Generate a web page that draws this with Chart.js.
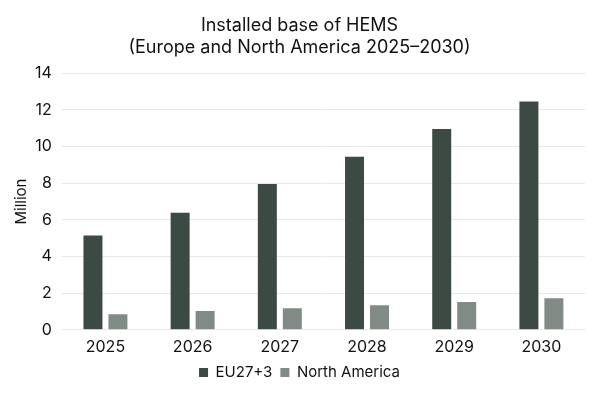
<!DOCTYPE html>
<html>
<head>
<meta charset="utf-8">
<script src="https://cdn.jsdelivr.net/npm/chart.js@4"></script>
<style>
html,body{margin:0;padding:0;background:#fff;}
#wrap{width:600px;height:400px;}
</style>
</head>
<body>
<div id="wrap"><canvas id="c" width="600" height="400"></canvas></div>
<script>
const categories = ["2025","2026","2027","2028","2029","2030"];
const euValues = [5.14, 6.39, 7.95, 9.44, 10.95, 12.45];
const naValues = [0.85, 1.03, 1.18, 1.34, 1.52, 1.72];
const seriesNames = ["EU27+3", "North America"];
const titleLines = ["Installed base of HEMS", "(Europe and North America 2025\u20132030)"];
const yTitle = "Million";

const FONT = "Inter, 'Noto Sans', sans-serif";
new Chart(document.getElementById('c'), {
  type: 'bar',
  data: {
    labels: categories,
    datasets: [
      { label: seriesNames[0], data: euValues, backgroundColor: '#3c4a44', categoryPercentage: 0.573, barPercentage: 0.76 },
      { label: seriesNames[1], data: naValues, backgroundColor: '#7f8b84', categoryPercentage: 0.573, barPercentage: 0.76 }
    ]
  },
  options: {
    responsive: false,
    animation: false,
    devicePixelRatio: 1,
    layout: { padding: { left: 14, right: 15, top: 8, bottom: 10 } },
    plugins: {
      title: {
        display: true, text: titleLines, color: '#111',
        font: { family: FONT, size: 18, weight: 'normal', lineHeight: 1.2 },
        padding: { top: 7, bottom: 15 }
      },
      legend: {
        position: 'bottom',
        labels: { color: '#111', boxWidth: 9, boxHeight: 9, padding: 8, font: { family: FONT, size: 15 } }
      },
      tooltip: { enabled: false }
    },
    scales: {
      x: {
        grid: { display: false },
        border: { display: false },
        ticks: { color: '#111', font: { family: FONT, size: 16 }, padding: 0 }
      },
      y: {
        min: 0, max: 14,
        ticks: { stepSize: 2, color: '#111', font: { family: FONT, size: 16 }, padding: 10 },
        grid: { color: '#e8e8e8', drawTicks: false, lineWidth: 1 },
        border: { display: false },
        title: { display: true, text: yTitle, color: '#111', font: { family: FONT, size: 15, lineHeight: 1 }, padding: { top: 0, bottom: -4 } }
      }
    }
  }
});
</script>
</body>
</html>
